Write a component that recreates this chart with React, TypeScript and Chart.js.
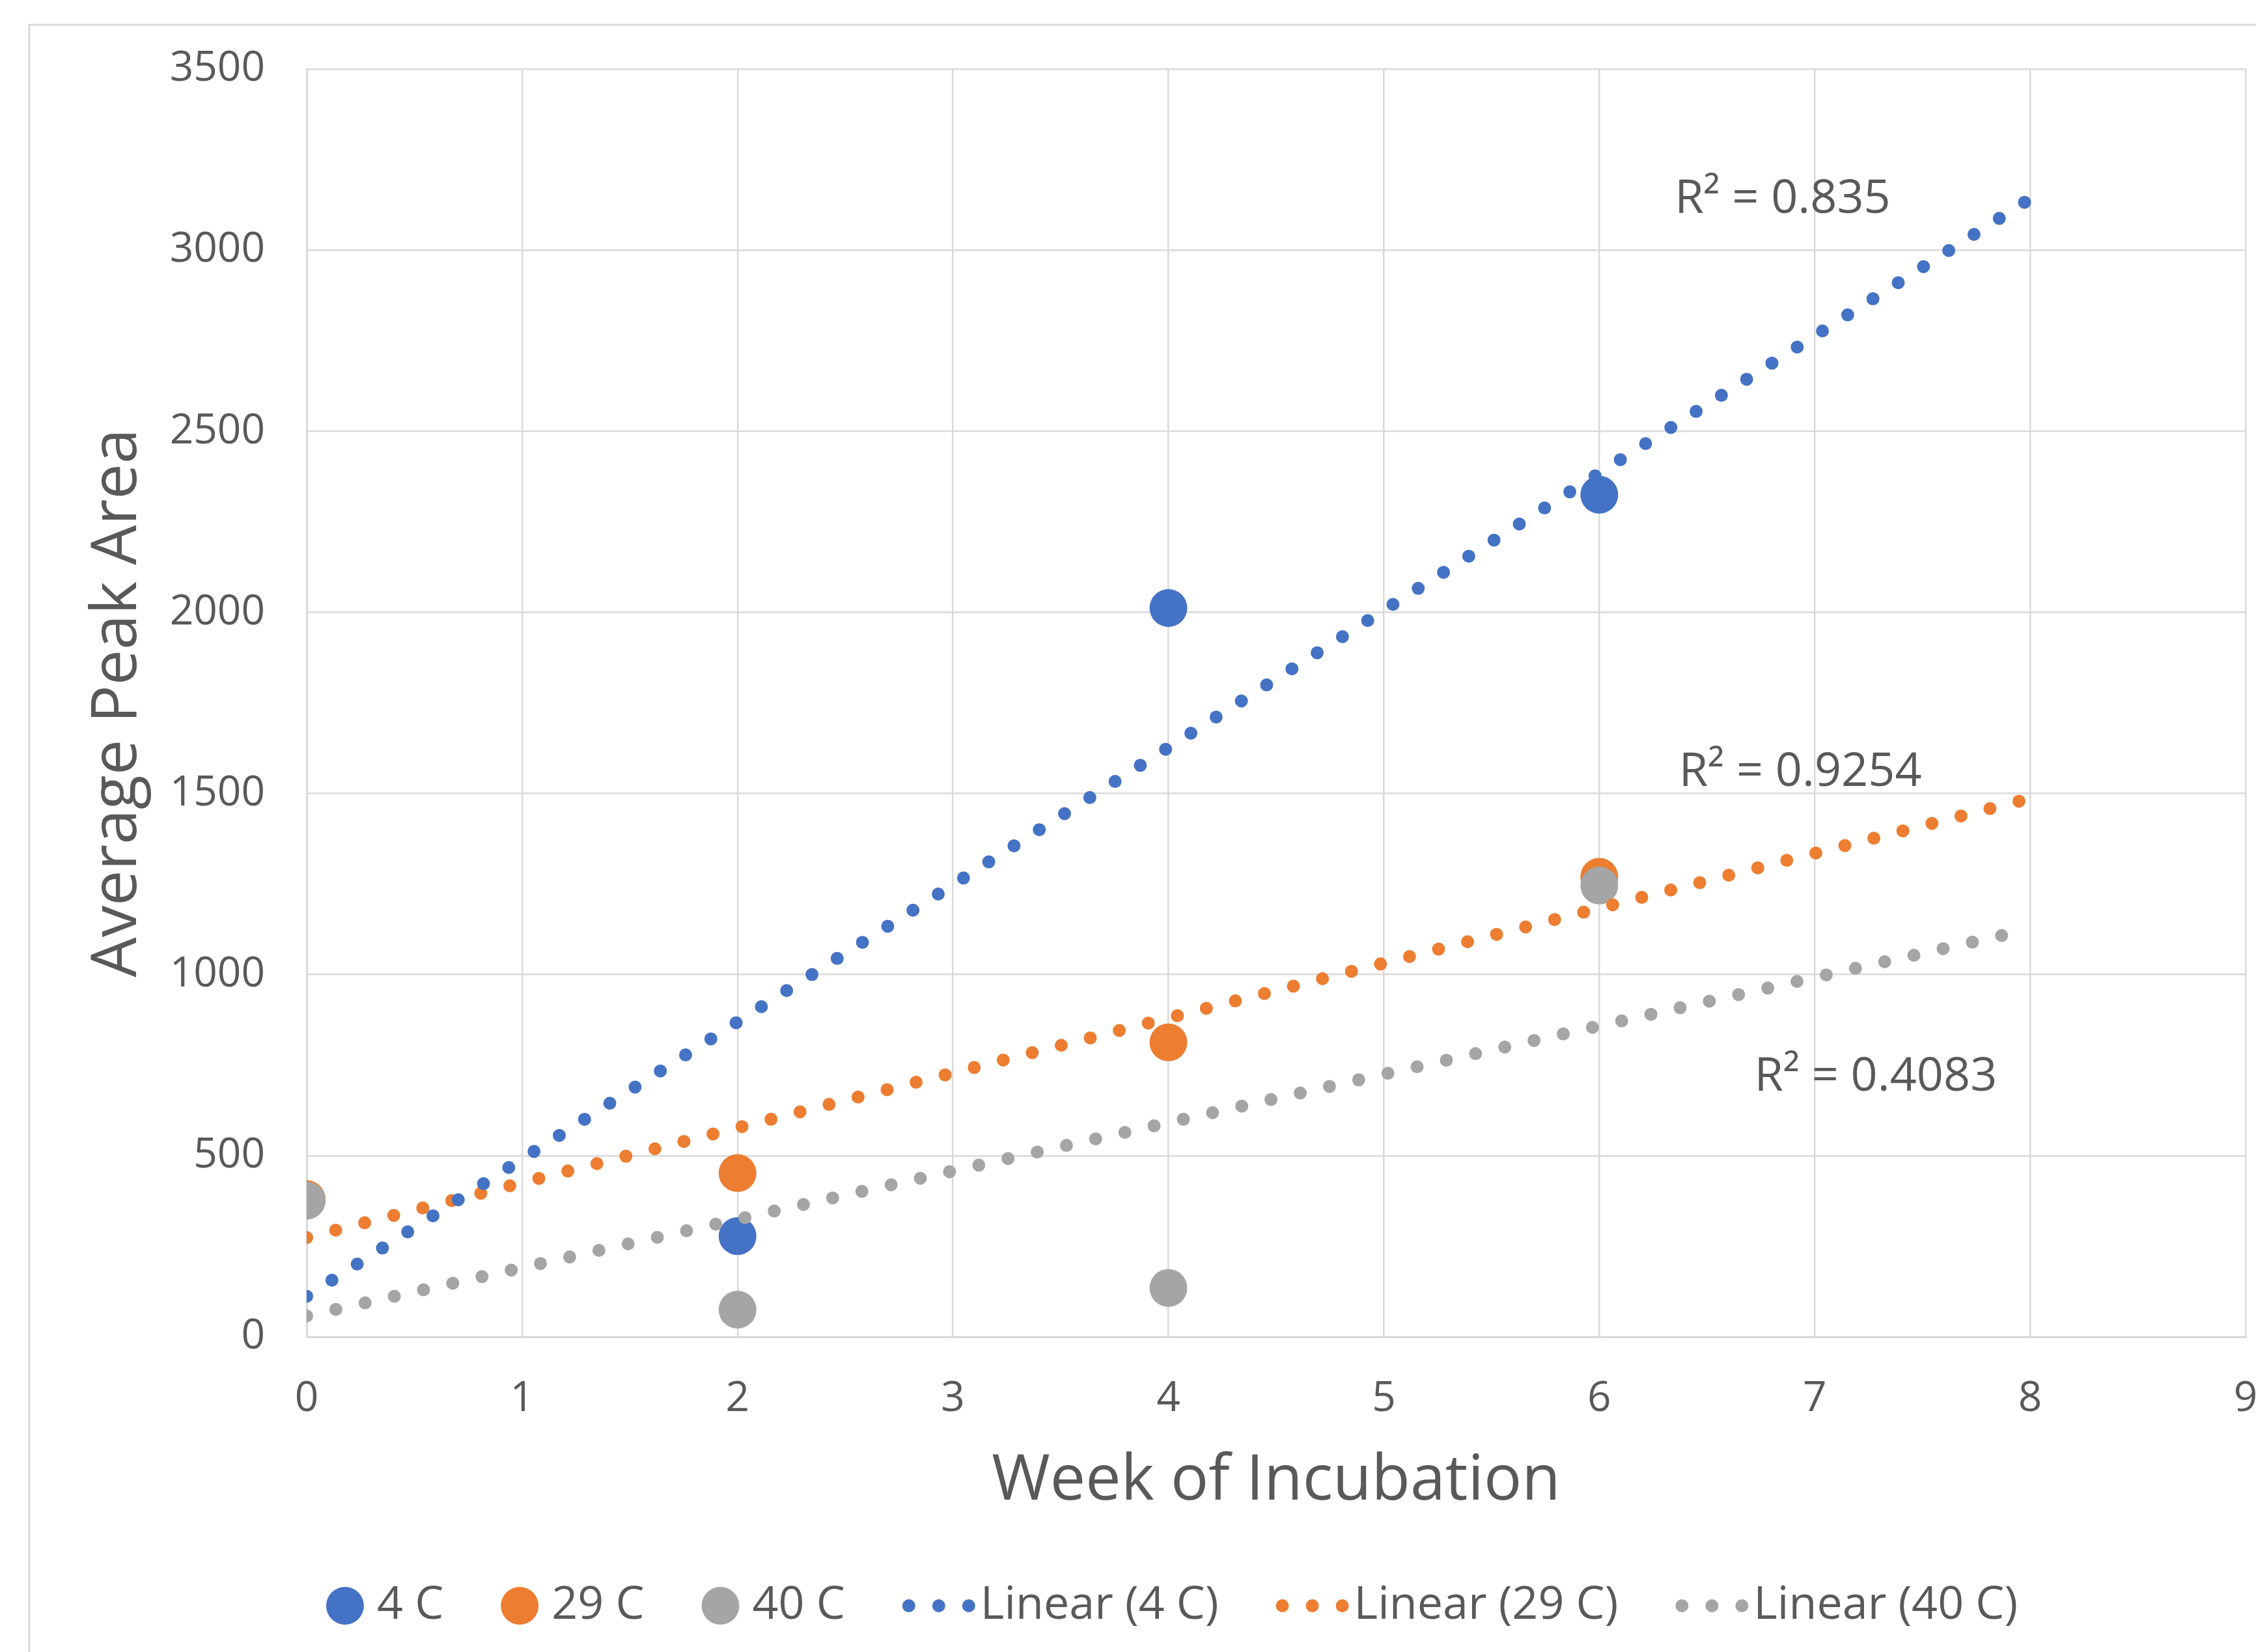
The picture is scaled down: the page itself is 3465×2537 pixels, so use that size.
import React, { useEffect, useRef } from 'react';
import { Chart, registerables } from 'chart.js';

Chart.register(...registerables);

// ---- data ----
const weeks = [0, 2, 4, 6];
const seriesNames = ['4 C', '29 C', '40 C'];
const values4C = [378, 278, 2012, 2325];
const values29C = [380, 452, 813, 1270];
const values40C = [376, 75, 135, 1246];
const seriesColors = ['#4472C4', '#ED7D31', '#A5A5A5'];
const r2Texts = ['R² = 0.835', 'R² = 0.9254', 'R² = 0.4083'];
const r2Anchors = [
  [6.35, 3140],
  [6.37, 1557],
  [6.72, 716],
];
const trendFrom = 0;
const trendTo = 8;
const xMin = 0;
const xMax = 9;
const yMin = 0;
const yMax = 3500;
const yStep = 500;
const xTitle = 'Week of Incubation';
const yTitle = 'Average Peak Area';

// ---- styles ----
const W = 3465;
const H = 2537;
const FONT = '"Open Sans", "DejaVu Sans", sans-serif';
const TEXT = '#595959';
const GRID = '#D9D9D9';
const MARKER_R = 29;
const DOT = 20;
const DOT_GAP = 46;
const TICK_FONT = 64;
const TITLE_FONT = 97;
const LEGEND_FONT = 70;
const R2_FONT = 72;
const LEGEND_CX = 1800;
const LEGEND_CY = 2466;

function linearFit(xs: number[], ys: number[]) {
  const n = xs.length;
  const mx = xs.reduce((a, b) => a + b, 0) / n;
  const my = ys.reduce((a, b) => a + b, 0) / n;
  let sxy = 0;
  let sxx = 0;
  for (let i = 0; i < n; i++) {
    sxy += (xs[i] - mx) * (ys[i] - my);
    sxx += (xs[i] - mx) * (xs[i] - mx);
  }
  const slope = sxy / sxx;
  return { slope, intercept: my - slope * mx };
}

const frameBg = {
  id: 'frameBg',
  beforeDraw(chart: any) {
    const ctx = chart.ctx;
    ctx.save();
    ctx.fillStyle = '#FFFFFF';
    ctx.fillRect(0, 0, chart.width, chart.height);
    ctx.strokeStyle = '#D9D9D9';
    ctx.lineWidth = 3;
    ctx.strokeRect(45, 38, chart.width + 50, chart.height + 50);
    ctx.restore();
  },
};

const r2Plugin = {
  id: 'r2Labels',
  afterDatasetsDraw(chart: any) {
    const ctx = chart.ctx;
    const xs = chart.scales.x;
    const ys = chart.scales.y;
    ctx.save();
    ctx.font = `${R2_FONT}px ${FONT}`;
    ctx.fillStyle = TEXT;
    ctx.textAlign = 'left';
    ctx.textBaseline = 'middle';
    r2Texts.forEach((t, i) => {
      ctx.fillText(t, xs.getPixelForValue(r2Anchors[i][0]), ys.getPixelForValue(r2Anchors[i][1]));
    });
    ctx.restore();
  },
};

const legendPlugin = {
  id: 'customLegend',
  afterDraw(chart: any) {
    const ctx = chart.ctx;
    ctx.save();
    ctx.font = `${LEGEND_FONT}px ${FONT}`;
    const items = chart.data.datasets.map((ds: any) => {
      const isLine = ds.type === 'line';
      const markerW = isLine ? DOT_GAP * 2 + DOT : MARKER_R * 2;
      const gap = isLine ? 8 : 20;
      const textW = ctx.measureText(ds.label).width;
      return { ds, isLine, markerW, gap, textW, w: markerW + gap + textW };
    });
    const itemGap = 88;
    const total = items.reduce((a: number, it: any) => a + it.w, 0) + itemGap * (items.length - 1);
    let x = LEGEND_CX - total / 2;
    const y = LEGEND_CY;
    items.forEach((it: any) => {
      if (it.isLine) {
        ctx.save();
        ctx.strokeStyle = it.ds.borderColor;
        ctx.lineWidth = it.ds.borderWidth;
        ctx.lineCap = 'round';
        ctx.setLineDash(it.ds.borderDash);
        ctx.beginPath();
        ctx.moveTo(x + DOT / 2, y);
        ctx.lineTo(x + DOT / 2 + DOT_GAP * 2 + 1, y);
        ctx.stroke();
        ctx.restore();
      } else {
        ctx.beginPath();
        ctx.fillStyle = it.ds.backgroundColor;
        ctx.arc(x + MARKER_R, y, MARKER_R, 0, Math.PI * 2);
        ctx.fill();
      }
      ctx.fillStyle = TEXT;
      ctx.textAlign = 'left';
      ctx.textBaseline = 'middle';
      ctx.fillText(it.ds.label, x + it.markerW + it.gap, y);
      x += it.w + itemGap;
    });
    ctx.restore();
  },
};

export default function App() {
  const ref = useRef<HTMLCanvasElement | null>(null);

  useEffect(() => {
    document.body.style.margin = '0';
    const canvas = ref.current;
    if (!canvas) return;

    const allValues = [values4C, values29C, values40C];
    const orders = [3, 2, 1];
    const scatterSets = allValues.map((vals, i) => ({
      type: 'scatter' as const,
      label: seriesNames[i],
      data: weeks.map((w, j) => ({ x: w, y: vals[j] })),
      backgroundColor: seriesColors[i],
      borderColor: seriesColors[i],
      borderWidth: 0,
      pointRadius: MARKER_R,
      pointHoverRadius: MARKER_R,
      order: orders[i],
    }));
    const trendSets = allValues.map((vals, i) => {
      const f = linearFit(weeks, vals);
      return {
        type: 'line' as const,
        label: `Linear (${seriesNames[i]})`,
        data: [
          { x: trendFrom, y: f.intercept + f.slope * trendFrom },
          { x: trendTo, y: f.intercept + f.slope * trendTo },
        ],
        borderColor: seriesColors[i],
        backgroundColor: seriesColors[i],
        borderWidth: DOT,
        borderDash: [0, DOT_GAP],
        borderCapStyle: 'round' as const,
        pointRadius: 0,
        fill: false,
        showLine: true,
        order: 0,
      };
    });

    const chart = new Chart(canvas, {
      type: 'scatter',
      data: { datasets: [...scatterSets, ...trendSets] as any },
      options: {
        animation: false,
        responsive: false,
        devicePixelRatio: 1,
        layout: { autoPadding: false, padding: { top: 106, right: 16, bottom: 184, left: 0 } },
        plugins: {
          legend: { display: false },
          tooltip: { enabled: false },
        },
        scales: {
          x: {
            type: 'linear',
            min: xMin,
            max: xMax,
            afterFit: (s: any) => {
              s.height = 300;
              s.paddingLeft = 0;
              s.paddingRight = 0;
            },
            ticks: {
              stepSize: 1,
              color: TEXT,
              padding: 57,
              font: { family: FONT, size: TICK_FONT },
              callback: (v: any) => String(v),
            },
            grid: { color: GRID, lineWidth: 2.5, drawTicks: false },
            border: { color: GRID, width: 3 },
            title: {
              display: true,
              text: xTitle,
              color: TEXT,
              font: { family: FONT, size: TITLE_FONT },
              padding: { top: 0, bottom: 19 },
            },
          },
          y: {
            type: 'linear',
            min: yMin,
            max: yMax,
            afterFit: (s: any) => {
              s.width = 471;
              s.paddingTop = 0;
              s.paddingBottom = 0;
            },
            ticks: {
              stepSize: yStep,
              color: TEXT,
              padding: 64,
              font: { family: FONT, size: TICK_FONT },
              callback: (v: any) => String(v),
            },
            grid: { color: GRID, lineWidth: 2.5, drawTicks: false },
            border: { color: GRID, width: 3 },
            title: {
              display: true,
              text: yTitle,
              color: TEXT,
              font: { family: FONT, size: TITLE_FONT },
              padding: { top: 123, bottom: 0 },
            },
          },
        },
      },
      plugins: [frameBg, r2Plugin, legendPlugin],
    });

    return () => {
      chart.destroy();
    };
  }, []);

  return (
    <canvas
      ref={ref}
      width={W}
      height={H}
      style={{ display: 'block', width: W + 'px', height: H + 'px' }}
    />
  );
}
